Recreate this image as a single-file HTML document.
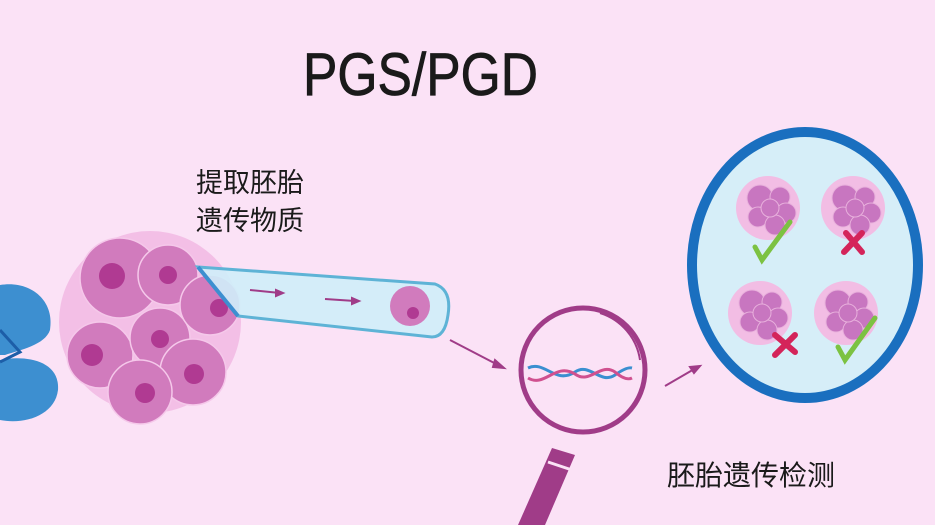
<!DOCTYPE html>
<html><head><meta charset="utf-8"><style>
html,body{margin:0;padding:0;background:#fbe2f6;}
svg{display:block}
text{font-family:"Liberation Sans","Noto Sans CJK SC",sans-serif;fill:#1a1a1a}
</style></head><body>
<svg width="935" height="525" viewBox="0 0 935 525" xmlns="http://www.w3.org/2000/svg">
<rect width="935" height="525" fill="#fbe2f6"/>
<text x="303" y="95" font-size="60" textLength="235" lengthAdjust="spacingAndGlyphs" stroke="#1a1a1a" stroke-width="0.8">PGS/PGD</text>
<text x="196" y="192" font-size="27">提取胚胎</text>
<text x="196" y="230" font-size="27">遗传物质</text>
<text x="667" y="485" font-size="28">胚胎遗传检测</text>

<!-- holder -->
<path d="M0,285 C30,280 55,300 50,330 C45,345 20,350 5,355 L0,355 Z" fill="#3d8fd0"/>
<path d="M0,360 C25,355 60,360 58,390 C55,415 25,425 0,420 Z" fill="#3d8fd0"/>
<path d="M0,330 L20,352 L0,362" fill="none" stroke="#1d5ea8" stroke-width="3"/>

<!-- embryo -->
<circle cx="150" cy="322" r="91" fill="#f3bfe6"/>
<g stroke="#f5c8ea" stroke-width="1.5" fill="#d17bbd">
<circle cx="120" cy="278" r="40"/>
<circle cx="168" cy="275" r="30"/>
<circle cx="100" cy="355" r="33"/>
<circle cx="160" cy="338" r="30"/>
<circle cx="210" cy="305" r="30"/>
<circle cx="193" cy="372" r="33"/>
<circle cx="140" cy="392" r="32"/>
</g>
<g fill="#b03a92">
<circle cx="112" cy="276" r="13"/><circle cx="168" cy="275" r="9"/>
<circle cx="92" cy="355" r="11"/><circle cx="160" cy="339" r="9"/>
<circle cx="219" cy="308" r="9"/><circle cx="194" cy="374" r="10"/>
<circle cx="145" cy="393" r="10"/>
</g>

<!-- pipette -->
<path d="M198,267 L435,284 Q452,290 448,315 Q445,337 432,337 L238,316 Z" fill="#cfeefa" fill-opacity="0.9" stroke="#5eb3d6" stroke-width="3"/>
<path d="M198,267 L238,316" stroke="#3d8fd0" stroke-width="4"/>
<g stroke="#a03c88" stroke-width="2" fill="#a03c88">
<line x1="250" y1="290" x2="280" y2="293"/><path d="M283,293 L276,290 L276,296Z"/>
<line x1="325" y1="299" x2="355" y2="301"/><path d="M359,301 L352,298 L352,304Z"/>
</g>
<circle cx="410" cy="306" r="20" fill="#d17bbd"/>
<circle cx="413" cy="313" r="6" fill="#b03a92"/>

<!-- arrows -->
<g stroke="#a03c88" stroke-width="2" fill="#a03c88">
<line x1="450" y1="340" x2="500" y2="366"/><path d="M504,368 L495,360 L493,367Z"/>
<line x1="665" y1="386" x2="696" y2="368"/><path d="M700,366 L690,367 L694,373Z"/>
</g>

<!-- magnifier -->
<path d="M552,448 L575,455 L545,525 L518,525 Z" fill="#a03c88"/>
<line x1="548" y1="462" x2="572" y2="470" stroke="#fbe2f6" stroke-width="3"/>
<circle cx="583" cy="370" r="62" fill="#fbe2f6" stroke="#a03c88" stroke-width="5"/>
<path d="M600,313 A58,58 0 0 1 640,360" fill="none" stroke="#a03c88" stroke-width="2"/>
<path d="M528,368 C545,360 555,385 575,372 C590,362 600,385 615,375 C622,370 628,367 632,368" fill="none" stroke="#3a8fd0" stroke-width="3"/>
<path d="M528,378 C545,388 555,362 575,374 C590,385 600,362 615,372 C622,378 628,380 632,378" fill="none" stroke="#d0508f" stroke-width="3"/>

<!-- result circle -->
<ellipse cx="805" cy="265" rx="113" ry="133" fill="#d6eef8" stroke="#1a6fbf" stroke-width="10"/>
<g>
<circle cx="768" cy="208" r="32" fill="#f2bde4"/>
<circle cx="853" cy="208" r="32" fill="#f2bde4"/>
<circle cx="760" cy="313" r="32" fill="#f2bde4"/>
<circle cx="846" cy="313" r="32" fill="#f2bde4"/>
</g>
<g fill="#c876c0" stroke="#e8b0dc" stroke-width="1">
<circle cx="760" cy="198" r="13"/><circle cx="780" cy="197" r="10"/><circle cx="786" cy="213" r="10"/><circle cx="758" cy="217" r="10"/><circle cx="775" cy="225" r="10"/><circle cx="770" cy="208" r="9"/>
<circle cx="845" cy="198" r="13"/><circle cx="865" cy="197" r="10"/><circle cx="871" cy="213" r="10"/><circle cx="843" cy="217" r="10"/><circle cx="860" cy="225" r="10"/><circle cx="855" cy="208" r="9"/>
<circle cx="752" cy="303" r="13"/><circle cx="772" cy="302" r="10"/><circle cx="778" cy="318" r="10"/><circle cx="750" cy="322" r="10"/><circle cx="767" cy="330" r="10"/><circle cx="762" cy="313" r="9"/>
<circle cx="838" cy="303" r="13"/><circle cx="858" cy="302" r="10"/><circle cx="864" cy="318" r="10"/><circle cx="836" cy="322" r="10"/><circle cx="853" cy="330" r="10"/><circle cx="848" cy="313" r="9"/>
</g>
<g fill="none" stroke-linecap="round" stroke-width="5">
<path d="M755,247 L762,260 L790,222" stroke="#7cc242"/>
<path d="M838,347 L845,360 L875,318" stroke="#7cc242"/>
<path d="M846,233 L862,252 M862,233 L844,252" stroke="#d4245a" stroke-width="6"/>
<path d="M775,335 L795,352 M795,335 L775,355" stroke="#d4245a" stroke-width="6"/>
</g>
</svg>
</body></html>
